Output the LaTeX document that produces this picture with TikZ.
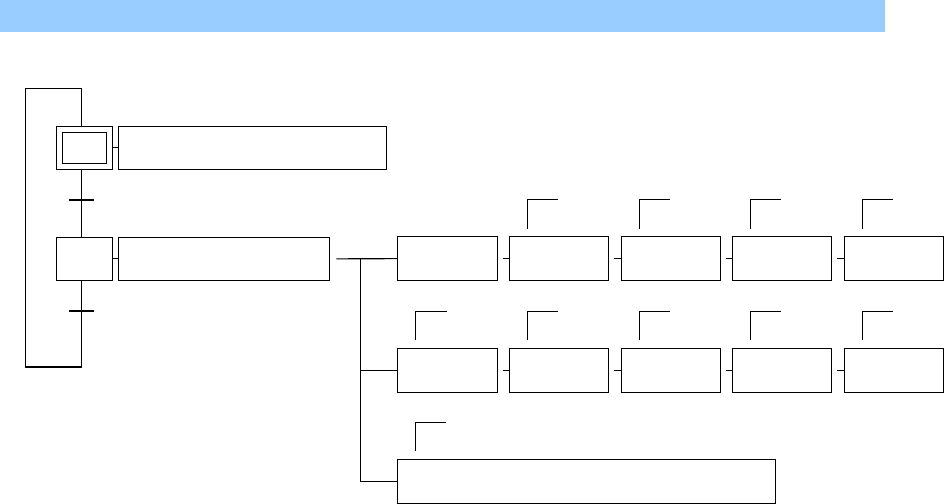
\documentclass[tikz,border=0pt]{standalone}
\usepackage{tikz}
\definecolor{banner}{HTML}{99CCFF}
\tikzstyle{stepbox}=[draw, minimum width=1.12cm, minimum height=0.86cm, inner sep=0pt]
\tikzstyle{actbox}=[draw, minimum height=0.87cm, inner sep=0pt]

\begin{document}
\begin{tikzpicture}[x=0.02cm, y=-0.02cm, line width=0.6pt]
    \useasboundingbox (0,0) rectangle (944,504);

    %banner
    \fill [banner] (0,0) rectangle (885,32);

    %steps and transitions
    \node [stepbox] (s1) at (84.3,147.8) {};
    \node [draw, minimum width=0.87cm, minimum height=0.62cm, inner sep=0pt] (s1in) at (s1.center) {};
    \node [stepbox] (s2) at (84.3,258.8) {};
    \coordinate (t1) at (81.3,200);
    \coordinate (t2) at (81.3,311);
    \coordinate (loopbot) at (81.3,367);
    \coordinate (looptop) at (81.3,88.3);

    %actions
    \node [actbox, minimum width=5.35cm, anchor=west] (a1) at (118.3,147.8) {};
    \node [actbox, minimum width=4.22cm, anchor=west] (a2) at (118.3,258.8) {};

    %sequence
    \draw (s1.south -| t1) -- (s2.north -| t2);
    \draw (s2.south -| t2) -- (loopbot) -- ++(-56,0) |- (looptop) -- (s1.north -| t1);
    \foreach \t in {t1,t2}{\draw ([xshift=-0.245cm]\t) -- ([xshift=0.245cm]\t);}
    \draw (s1.east) -- (a1.west);
    \draw (s2.east) -- (a2.east -| s2.east) -- (a2.west);

    %boxes
    \foreach \c/\x in {1/447.3,2/558.8,3/670.8,4/781.8,5/893.8}{
        \node [actbox, minimum width=1.99cm] (r1c\c) at (\x,258.7) {};
        \node [actbox, minimum width=1.99cm, minimum height=0.88cm] (r2c\c) at (\x,370.3) {};
    }
    \node [actbox, minimum width=7.57cm, minimum height=0.88cm] (r3) at (586.5,481.3) {};

    %links
    \foreach \p/\c in {1/2,2/3,3/4,4/5}{
        \draw [shorten <=0.1cm] (r1c\p.east) -- (r1c\c.west);
        \draw [shorten <=0.1cm] (r2c\p.east) -- (r2c\c.west);
    }
    \coordinate (fork) at (360.3,258.7);
    \draw [shorten <=0.12cm] (a2.east) -- (r1c1.west);
    \draw (fork) |- (r2c1.west);
    \draw (fork) |- (r3.west);

    %qualifiers
    \foreach \b in {r1c2,r1c3,r1c4,r1c5,r2c1,r2c2,r2c3,r2c4,r2c5,r3}{
        \draw ([xshift=0.37cm,yshift=0.15cm]\b.north west) -- ++(0,-29) -- ++(31,0);
    }

\end{tikzpicture}
\end{document}
